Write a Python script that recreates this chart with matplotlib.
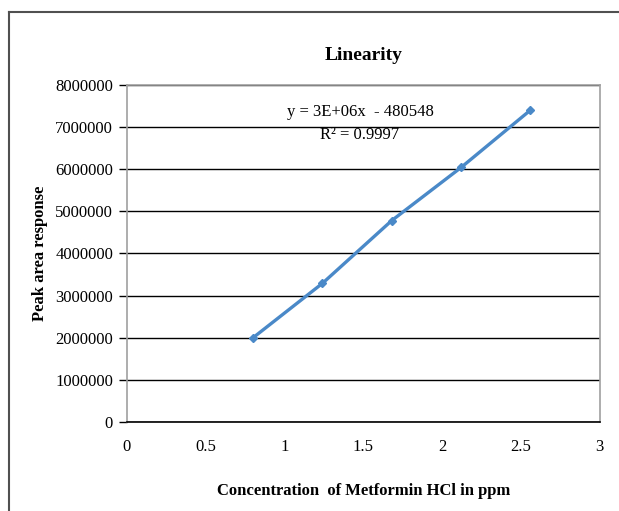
import numpy as np
import matplotlib.pyplot as plt
from matplotlib.lines import Line2D

# calibration data: concentration (ppm) vs peak area
conc = [0.8, 1.24, 1.68, 2.12, 2.56]
peak_area = [2000000, 3290000, 4780000, 6040000, 7400000]

x_ticks = [0, 0.5, 1, 1.5, 2, 2.5, 3]
y_ticks = [0, 1000000, 2000000, 3000000, 4000000, 5000000, 6000000, 7000000, 8000000]

plt.rcParams['font.family'] = ['Liberation Serif', 'DejaVu Serif']

fig = plt.figure(figsize=(6.19, 5.11), dpi=100)
ax = fig.add_axes([0.205, 0.174, 0.764, 0.660])

ax.plot(conc, peak_area, color="#4a89c8", lw=2.4, marker="D", ms=4.5,
        markerfacecolor="#4a89c8", markeredgecolor="#4a89c8")

ax.set_xlim(0, 3)
ax.set_ylim(0, 8000000)
ax.set_xticks(x_ticks)
ax.set_xticklabels([f"{t:g}" for t in x_ticks])
ax.set_yticks(y_ticks)
ax.set_yticklabels([str(t) for t in y_ticks])
ax.tick_params(axis="x", length=0, pad=12, labelsize=12)
ax.tick_params(axis="y", length=6, width=1, color="black", pad=4, labelsize=12)

ax.grid(axis="y", color="black", lw=1)
ax.set_axisbelow(True)
for side in ["top", "right", "left"]:
    ax.spines[side].set_color("#a0a0a0")
    ax.spines[side].set_linewidth(1.2)
ax.spines["bottom"].set_color("black")
ax.spines["bottom"].set_linewidth(1.2)

ax.set_title("Linearity", fontsize=14, fontweight="bold", pad=18)
ax.set_xlabel("Concentration  of Metformin HCl in ppm", fontsize=12,
              fontweight="bold", labelpad=20)
ax.set_ylabel("Peak area response", fontsize=12, fontweight="bold", labelpad=5)

# trendline equation and R²
ax.text(0.493, 0.920, "y = 3E+06x  - 480548", transform=ax.transAxes,
        fontsize=12, ha="center", va="center")
ax.text(0.493, 0.852, "R² = 0.9997", transform=ax.transAxes,
        fontsize=12, ha="center", va="center")

# chart area border (left and top edges)
fig.add_artist(Line2D([8.5 / 619, 8.5 / 619], [0, 1 - 12 / 511],
                      transform=fig.transFigure, color="#505050", lw=1.5))
fig.add_artist(Line2D([8.5 / 619, 1], [1 - 12 / 511, 1 - 12 / 511],
                      transform=fig.transFigure, color="#505050", lw=1.5))

fig.savefig("out.png", dpi=100)
